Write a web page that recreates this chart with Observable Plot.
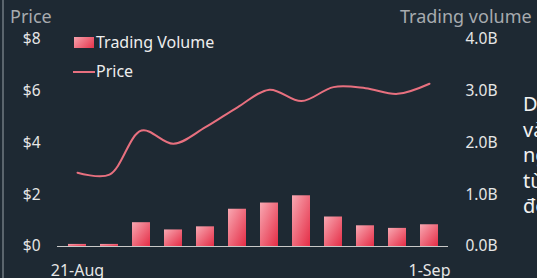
<!DOCTYPE html>
<html>
<head>
<meta charset="utf-8">
<script src="https://cdn.jsdelivr.net/npm/d3@7"></script>
<script src="https://cdn.jsdelivr.net/npm/@observablehq/plot@0.6"></script>
<style>
  html, body { margin: 0; padding: 0; background: #1e2933; }
  body { width: 537px; height: 278px; overflow: hidden; position: relative; font-family: "Noto Sans", sans-serif; }
  #border { position: absolute; left: 2px; top: 0; width: 2px; height: 278px; background: #5b656d; }
  #chart { position: absolute; left: 0; top: 0; }
  .abs { position: absolute; white-space: nowrap; }
  .title { color: #a7abaf; font-size: 18px; line-height: 18px; }
  .leg { color: #eeeeee; font-size: 16px; line-height: 16px; }
  #side { position: absolute; left: 523px; top: 91px; color: #f2f2f2; font-size: 20px; line-height: 25.5px; white-space: nowrap; }
</style>
</head>
<body>
<div id="border"></div>
<div id="chart"></div>
<div class="abs title" style="left:10px; top:7px;">Price</div>
<div class="abs title" style="left:400px; top:7px;">Trading volume</div>
<div class="abs" style="left:74px; top:37px; width:20px; height:11px; background: linear-gradient(135deg, #f7a3ad, #e6334b);"></div>
<div class="abs leg" style="left:96px; top:34px;">Trading Volume</div>
<div class="abs" style="left:73px; top:71px; width:22px; height:2px; background:#e8707f;"></div>
<div class="abs leg" style="left:96px; top:63px;">Price</div>
<div id="side">Diễn biến giá<br>và khối lượng<br>ngày giao dịch<br>từ 21/8<br>đến 1/9</div>
<script>
const dates = ["21-Aug","22-Aug","23-Aug","24-Aug","25-Aug","26-Aug","27-Aug","28-Aug","29-Aug","30-Aug","31-Aug","1-Sep"];
const volumeB = [0.04, 0.04, 0.46, 0.32, 0.38, 0.72, 0.84, 0.98, 0.57, 0.40, 0.35, 0.42];
const price = [2.85, 2.78, 4.48, 3.97, 4.61, 5.38, 6.06, 5.62, 6.16, 6.12, 5.90, 6.29];
const priceTicks = [0, 2, 4, 6, 8];
const volumeTicks = [0, 1, 2, 3, 4];
const xTickLabels = ["21-Aug", "1-Sep"];

const rows = dates.map((d, i) => ({date: d, volume: volumeB[i], price: price[i], priceScaled: price[i] / 2}));

const chart = Plot.plot({
  width: 537,
  height: 278,
  marginLeft: 57,
  marginRight: 89,
  marginTop: 39,
  marginBottom: 32,
  style: {background: "transparent", color: "#e6e6e6", fontFamily: "Noto Sans, sans-serif"},
  x: {type: "band", domain: dates, paddingInner: 0.45, paddingOuter: 0.22},
  y: {domain: [0, 4]},
  marks: [
    Plot.barY(rows, {x: "date", y: "volume", fill: "url(#barGrad)"}),
    Plot.ruleY([0], {stroke: "#c8c8c8", strokeWidth: 1.2}),
    Plot.line(rows, {x: "date", y: "priceScaled", stroke: "#e8707f", strokeWidth: 2, curve: "catmull-rom"}),
    Plot.axisY({anchor: "left", ticks: priceTicks.map(p => p / 2), tickFormat: d => "$" + (d * 2), tickSize: 0, tickPadding: 17, fontSize: 15.5, label: null}),
    Plot.axisY({anchor: "right", ticks: volumeTicks, tickFormat: d => d.toFixed(1) + "B", tickSize: 0, tickPadding: 17, fontSize: 15.5, label: null, textAnchor: "start"}),
    Plot.axisX({ticks: xTickLabels, tickSize: 0, tickPadding: 18, fontSize: 16, label: null})
  ]
});

const svg = d3.select(chart.tagName.toLowerCase() === "svg" ? chart : chart.querySelector("svg"));
const grad = svg.insert("defs", ":first-child").append("linearGradient")
  .attr("id", "barGrad").attr("x1", "0").attr("y1", "0").attr("x2", "1").attr("y2", "1");
grad.append("stop").attr("offset", "0%").attr("stop-color", "#f8a8b2");
grad.append("stop").attr("offset", "100%").attr("stop-color", "#e52d46");

document.getElementById("chart").appendChild(chart);
</script>
</body>
</html>
